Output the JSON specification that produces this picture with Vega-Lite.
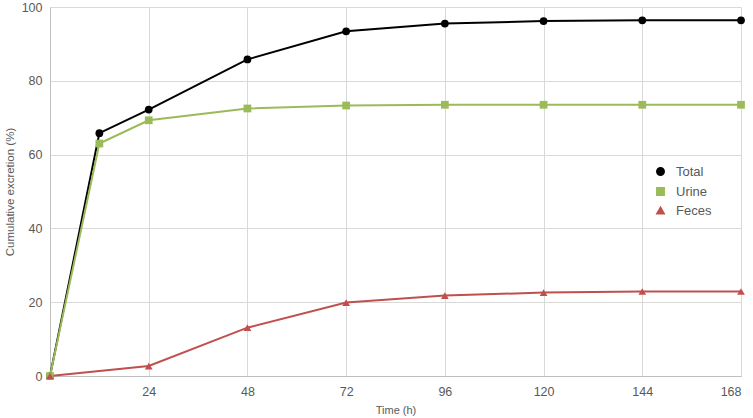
{
  "$schema": "https://vega.github.io/schema/vega-lite/v6.json",
  "autosize": "none",
  "width": 691,
  "height": 369,
  "padding": {"left": 50, "top": 7, "right": 12, "bottom": 42},
  "background": "white",
  "config": {
    "font": "Liberation Sans",
    "view": {"stroke": null},
    "axis": {"labelFont": "Liberation Sans", "titleFont": "Liberation Sans", "labelColor": "#595959", "titleColor": "#595959", "titleFontWeight": "normal", "gridColor": "#d9d9d9", "gridWidth": 1, "domainColor": "#bfbfbf", "ticks": false}
  },
  "data": {"values": [
    {"t": 0, "v": 0, "s": "Total"},
    {"t": 12, "v": 65.8, "s": "Total"},
    {"t": 24, "v": 72.2, "s": "Total"},
    {"t": 48, "v": 85.8, "s": "Total"},
    {"t": 72, "v": 93.4, "s": "Total"},
    {"t": 96, "v": 95.5, "s": "Total"},
    {"t": 120, "v": 96.2, "s": "Total"},
    {"t": 144, "v": 96.4, "s": "Total"},
    {"t": 168, "v": 96.4, "s": "Total"},
    {"t": 0, "v": 0, "s": "Urine"},
    {"t": 12, "v": 63.0, "s": "Urine"},
    {"t": 24, "v": 69.3, "s": "Urine"},
    {"t": 48, "v": 72.5, "s": "Urine"},
    {"t": 72, "v": 73.3, "s": "Urine"},
    {"t": 96, "v": 73.5, "s": "Urine"},
    {"t": 120, "v": 73.5, "s": "Urine"},
    {"t": 144, "v": 73.5, "s": "Urine"},
    {"t": 168, "v": 73.5, "s": "Urine"},
    {"t": 0, "v": 0, "s": "Feces"},
    {"t": 24, "v": 2.7, "s": "Feces"},
    {"t": 48, "v": 13.1, "s": "Feces"},
    {"t": 72, "v": 19.9, "s": "Feces"},
    {"t": 96, "v": 21.8, "s": "Feces"},
    {"t": 120, "v": 22.6, "s": "Feces"},
    {"t": 144, "v": 22.9, "s": "Feces"},
    {"t": 168, "v": 22.9, "s": "Feces"}
  ]},
  "encoding": {
    "x": {"field": "t", "type": "quantitative", "scale": {"domain": [0, 168], "nice": false, "zero": true},
      "axis": {"title": "Time (h)", "values": [24, 48, 72, 96, 120, 144, 168], "labelFontSize": 12.5, "titleFontSize": 11, "labelPadding": 9, "titlePadding": 7, "grid": true}},
    "y": {"field": "v", "type": "quantitative", "scale": {"domain": [0, 100], "nice": false},
      "axis": {"title": "Cumulative excretion (%)", "values": [0, 20, 40, 60, 80, 100], "labelFontSize": 12.5, "titleFontSize": 11.5, "labelPadding": 8, "titlePadding": 6, "grid": true}},
    "color": {"field": "s", "type": "nominal", "scale": {"domain": ["Total", "Urine", "Feces"], "range": ["#000000", "#9bbb59", "#c0504d"]},
      "legend": {"title": null, "orient": "none", "legendX": 604, "legendY": 158, "labelFontSize": 13, "labelColor": "#595959", "labelFont": "Liberation Sans", "symbolSize": 55, "rowPadding": 5, "labelOffset": 9}
    }
  },
  "layer": [
    {
      "mark": {"type": "line", "strokeWidth": 2},
      "encoding": {"detail": {"field": "s"}}
    },
    {
      "mark": {"type": "point", "filled": true, "size": 60, "opacity": 1},
      "encoding": {
        "shape": {"field": "s", "type": "nominal", "legend": null, "scale": {"domain": ["Total", "Urine", "Feces"], "range": ["circle", "square", "triangle-up"]}}
      }
    }
  ]
}
